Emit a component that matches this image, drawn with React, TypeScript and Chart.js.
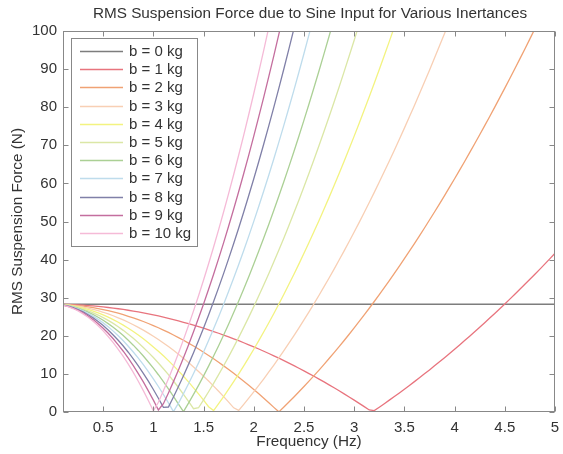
import React, { useEffect, useRef } from "react";
import { Chart, registerables } from "chart.js";

Chart.register(...registerables);

const TITLE = "RMS Suspension Force due to Sine Input for Various Inertances";
const X_LABEL = "Frequency (Hz)";
const Y_LABEL = "RMS Suspension Force (N)";

const frequency = [
  0.1, 0.15, 0.2, 0.25, 0.3, 0.35, 0.4, 0.45, 0.5, 0.55,
  0.6, 0.65, 0.7, 0.75, 0.8, 0.85, 0.9, 0.95, 1.0, 1.05,
  1.1, 1.15, 1.2, 1.25, 1.3, 1.35, 1.4, 1.45, 1.5, 1.55,
  1.6, 1.65, 1.7, 1.75, 1.8, 1.85, 1.9, 1.95, 2.0, 2.05,
  2.1, 2.15, 2.2, 2.25, 2.3, 2.35, 2.4, 2.45, 2.5, 2.55,
  2.6, 2.65, 2.7, 2.75, 2.8, 2.85, 2.9, 2.95, 3.0, 3.05,
  3.1, 3.15, 3.2, 3.25, 3.3, 3.35, 3.4, 3.45, 3.5, 3.55,
  3.6, 3.65, 3.7, 3.75, 3.8, 3.85, 3.9, 3.95, 4.0, 4.05,
  4.1, 4.15, 4.2, 4.25, 4.3, 4.35, 4.4, 4.45, 4.5, 4.55,
  4.6, 4.65, 4.7, 4.75, 4.8, 4.85, 4.9, 4.95, 5.0,
];

const xTicks = [0.5, 1, 1.5, 2, 2.5, 3, 3.5, 4, 4.5, 5];
const xTickLabels = ["0.5", "1", "1.5", "2", "2.5", "3", "3.5", "4", "4.5", "5"];
const yTicks = [0, 10, 20, 30, 40, 50, 60, 70, 80, 90, 100];

const seriesLabels = [
  "b = 0 kg", "b = 1 kg", "b = 2 kg", "b = 3 kg", "b = 4 kg", "b = 5 kg",
  "b = 6 kg", "b = 7 kg", "b = 8 kg", "b = 9 kg", "b = 10 kg",
];

const seriesColors = [
  "#7d7d7d", "#e8747e", "#f0a274", "#f8cfb4", "#f3f380", "#dbe7a6",
  "#abd095", "#bedcec", "#8080a8", "#c46e9e", "#f5bad7",
];

const force_b0_freq = [0.1, 5.0];
const force_b0 = [28.28, 28.28];

const force_b1 = [
  28.25, 28.22, 28.17, 28.11, 28.03, 27.94, 27.83, 27.71, 27.58, 27.43,
  27.27, 27.10, 26.91, 26.71, 26.49, 26.26, 26.01, 25.76, 25.48, 25.20,
  24.90, 24.58, 24.25, 23.91, 23.55, 23.18, 22.80, 22.40, 21.99, 21.56,
  21.12, 20.67, 20.20, 19.71, 19.22, 18.71, 18.18, 17.64, 17.09, 16.53,
  15.95, 15.35, 14.74, 14.12, 13.48, 12.83, 12.17, 11.49, 10.80, 10.09,
  9.37, 8.64, 7.89, 7.13, 6.35, 5.56, 4.76, 3.94, 3.11, 2.26,
  1.40, 0.53, 0.36, 1.26, 2.18, 3.11, 4.05, 5.01, 5.98, 6.97,
  7.97, 8.98, 10.01, 11.05, 12.11, 13.18, 14.26, 15.36, 16.47, 17.60,
  18.74, 19.89, 21.06, 22.24, 23.44, 24.65, 25.87, 27.11, 28.36, 29.63,
  30.91, 32.20, 33.51, 34.83, 36.16, 37.51, 38.88, 40.25, 41.65,
];

const force_b2 = [
  28.22, 28.15, 28.06, 27.93, 27.78, 27.59, 27.38, 27.15, 26.88, 26.59,
  26.27, 25.92, 25.54, 25.13, 24.70, 24.24, 23.75, 23.23, 22.69, 22.11,
  21.51, 20.88, 20.22, 19.54, 18.83, 18.09, 17.32, 16.52, 15.69, 14.84,
  13.96, 13.05, 12.11, 11.15, 10.16, 9.13, 8.09, 7.01, 5.90, 4.77,
  3.61, 2.42, 1.21, 0.04, 1.31, 2.61, 3.94, 5.30, 6.68, 8.10,
  9.54, 11.00, 12.50, 14.03, 15.58, 17.16, 18.77, 20.40, 22.07, 23.76,
  25.48, 27.23, 29.00, 30.81, 32.64, 34.50, 36.39, 38.30, 40.25, 42.22,
  44.22, 46.25, 48.30, 50.39, 52.50, 54.64, 56.81, 59.00, 61.22, 63.48,
  65.76, 68.06, 70.40, 72.76, 75.15, 77.57, 80.02, 82.50, 85.00, 87.53,
  90.09, 92.68, 95.29, 97.94, 100.61,
];

const force_b3 = [
  28.20, 28.09, 27.94, 27.76, 27.52, 27.25, 26.94, 26.58, 26.18, 25.74,
  25.26, 24.73, 24.17, 23.56, 22.91, 22.22, 21.48, 20.71, 19.89, 19.03,
  18.13, 17.18, 16.20, 15.17, 14.10, 12.99, 11.83, 10.64, 9.40, 8.12,
  6.80, 5.44, 4.03, 2.58, 1.09, 0.44, 2.01, 3.63, 5.28, 6.98,
  8.72, 10.51, 12.33, 14.20, 16.11, 18.06, 20.05, 22.09, 24.16, 26.28,
  28.44, 30.65, 32.89, 35.18, 37.51, 39.88, 42.29, 44.74, 47.24, 49.78,
  52.36, 54.98, 57.64, 60.35, 63.10, 65.89, 68.72, 71.59, 74.51, 77.47,
  80.47, 83.51, 86.59, 89.72, 92.89, 96.10, 99.35, 102.64,
];

const force_b4 = [
  28.17, 28.03, 27.83, 27.58, 27.27, 26.91, 26.49, 26.01, 25.48, 24.90,
  24.25, 23.55, 22.80, 21.99, 21.12, 20.20, 19.22, 18.18, 17.09, 15.95,
  14.74, 13.48, 12.17, 10.80, 9.37, 7.89, 6.35, 4.76, 3.11, 1.40,
  0.36, 2.18, 4.05, 5.98, 7.97, 10.01, 12.11, 14.26, 16.47, 18.74,
  21.06, 23.44, 25.87, 28.36, 30.91, 33.51, 36.16, 38.88, 41.65, 44.47,
  47.35, 50.29, 53.28, 56.33, 59.43, 62.60, 65.81, 69.08, 72.41, 75.80,
  79.24, 82.73, 86.29, 89.89, 93.56, 97.28, 101.05,
];

const force_b5 = [
  28.14, 27.97, 27.72, 27.41, 27.02, 26.57, 26.04, 25.45, 24.78, 24.05,
  23.25, 22.37, 21.43, 20.41, 19.33, 18.18, 16.95, 15.66, 14.30, 12.86,
  11.36, 9.79, 8.14, 6.43, 4.65, 2.79, 0.87, 1.12, 3.19, 5.32,
  7.52, 9.79, 12.14, 14.55, 17.03, 19.58, 22.21, 24.90, 27.66, 30.49,
  33.39, 36.37, 39.41, 42.52, 45.70, 48.95, 52.27, 55.67, 59.13, 62.66,
  66.26, 69.93, 73.67, 77.48, 81.36, 85.31, 89.33, 93.43, 97.59, 101.82,
];

const force_b6 = [
  28.11, 27.90, 27.61, 27.23, 26.77, 26.22, 25.59, 24.88, 24.08, 23.20,
  22.24, 21.19, 20.06, 18.84, 17.54, 16.16, 14.69, 13.13, 11.50, 9.78,
  7.97, 6.09, 4.11, 2.06, 0.08, 2.31, 4.61, 7.00, 9.48, 12.04,
  14.68, 17.41, 20.22, 23.11, 26.09, 29.16, 32.30, 35.53, 38.85, 42.25,
  45.73, 49.30, 52.94, 56.68, 60.50, 64.40, 68.38, 72.45, 76.61, 80.85,
  85.17, 89.57, 94.06, 98.63, 103.29,
];

const force_b7 = [
  28.08, 27.84, 27.50, 27.06, 26.52, 25.88, 25.15, 24.32, 23.39, 22.36,
  21.23, 20.01, 18.69, 17.27, 15.75, 14.13, 12.42, 10.61, 8.70, 6.69,
  4.59, 2.39, 0.09, 2.31, 4.81, 7.40, 10.10, 12.89, 15.77, 18.76,
  21.84, 25.02, 28.30, 31.68, 35.16, 38.73, 42.40, 46.17, 50.04, 54.00,
  58.06, 62.22, 66.48, 70.84, 75.29, 79.85, 84.50, 89.24, 94.09, 99.03,
  104.07,
];

const force_b8 = [
  28.06, 27.78, 27.38, 26.88, 26.27, 25.54, 24.70, 23.75, 22.69, 21.51,
  20.22, 18.83, 17.32, 15.69, 13.96, 12.11, 10.16, 8.09, 5.90, 3.61,
  1.21, 1.31, 3.94, 6.68, 9.54, 12.50, 15.58, 18.77, 22.07, 25.48,
  29.00, 32.64, 36.39, 40.25, 44.22, 48.30, 52.50, 56.81, 61.22, 65.76,
  70.40, 75.15, 80.02, 85.00, 90.09, 95.29, 100.61,
];

const force_b9 = [
  28.03, 27.71, 27.27, 26.71, 26.01, 25.20, 24.25, 23.18, 21.99, 20.67,
  19.22, 17.64, 15.95, 14.12, 12.17, 10.09, 7.89, 5.56, 3.11, 0.53,
  2.18, 5.01, 7.97, 11.05, 14.26, 17.60, 21.06, 24.65, 28.36, 32.20,
  36.16, 40.25, 44.47, 48.81, 53.28, 57.87, 62.60, 67.44, 72.41, 77.51,
  82.73, 88.08, 93.56, 99.16, 104.89,
];

const force_b10 = [
  28.00, 27.65, 27.16, 26.53, 25.76, 24.85, 23.81, 22.62, 21.29, 19.82,
  18.21, 16.46, 14.58, 12.55, 10.38, 8.07, 5.62, 3.04, 0.31, 2.56,
  5.56, 8.71, 12.00, 15.42, 18.99, 22.70, 26.54, 30.53, 34.65, 38.92,
  43.32, 47.87, 52.55, 57.38, 62.34, 67.45, 72.69, 78.08, 83.60, 89.26,
  95.07, 101.01,
];

const FONT = "'Liberation Sans', Arial, Helvetica, sans-serif";
const TEXT_COLOR = "#333333";
const FRAME_COLOR = "#888888";

const framePlugin = {
  id: "matlabFrame",
  afterDraw(chart: any) {
    const { ctx, chartArea } = chart;
    const { left, right, top, bottom } = chartArea;
    const xs = chart.scales.x;
    const ys = chart.scales.y;
    ctx.save();
    ctx.strokeStyle = FRAME_COLOR;
    ctx.lineWidth = 1;
    const L = Math.round(left) + 0.5;
    const R = Math.round(right) - 0.5;
    const T = Math.round(top) + 0.5;
    const B = Math.round(bottom) - 0.5;
    ctx.strokeRect(L, T, R - L, B - T);
    ctx.beginPath();
    for (const v of xTicks) {
      const p = Math.round(xs.getPixelForValue(v)) + 0.5;
      ctx.moveTo(p, B);
      ctx.lineTo(p, B - 5);
      ctx.moveTo(p, T);
      ctx.lineTo(p, T + 5);
    }
    for (const v of yTicks) {
      const p = Math.round(ys.getPixelForValue(v)) + 0.5;
      ctx.moveTo(L, p);
      ctx.lineTo(L + 5, p);
      ctx.moveTo(R, p);
      ctx.lineTo(R - 5, p);
    }
    ctx.stroke();

    // title
    ctx.fillStyle = TEXT_COLOR;
    ctx.font = `15.3px ${FONT}`;
    ctx.textAlign = "center";
    ctx.textBaseline = "middle";
    ctx.fillText(TITLE, (left + right) / 2 + 1, 14);

    // legend
    const bx = 71.5, by = 38.5, bw = 126, bh = 208;
    ctx.fillStyle = "#ffffff";
    ctx.fillRect(bx, by, bw, bh);
    ctx.strokeStyle = FRAME_COLOR;
    ctx.strokeRect(bx, by, bw, bh);
    ctx.font = `15px ${FONT}`;
    ctx.textAlign = "left";
    ctx.textBaseline = "middle";
    chart.data.datasets.forEach((ds: any, i: number) => {
      const yy = Math.round(51 + i * 18.2) + 0.5;
      ctx.strokeStyle = ds.borderColor;
      ctx.lineWidth = 1.3;
      ctx.beginPath();
      ctx.moveTo(80, yy);
      ctx.lineTo(123, yy);
      ctx.stroke();
      ctx.fillStyle = TEXT_COLOR;
      ctx.fillText(ds.label, 129, yy + 0.5);
    });
    ctx.restore();
  },
};

export default function App() {
  const ref = useRef<HTMLCanvasElement>(null);
  useEffect(() => {
    document.body.style.margin = "0";
    const canvas = ref.current;
    if (!canvas) return;
    const series = [
      force_b1, force_b2, force_b3, force_b4, force_b5,
      force_b6, force_b7, force_b8, force_b9, force_b10,
    ];
    const datasets: any[] = [
      {
        label: seriesLabels[0],
        data: force_b0_freq.map((x, i) => ({ x, y: force_b0[i] })),
        borderColor: seriesColors[0],
        borderWidth: 1.3,
        pointRadius: 0,
        order: 11,
      },
      ...series.map((arr, k) => ({
        label: seriesLabels[k + 1],
        data: arr.map((y, i) => ({ x: frequency[i], y })),
        borderColor: seriesColors[k + 1],
        borderWidth: 1.3,
        pointRadius: 0,
        order: 10 - k,
      })),
    ];
    const chart = new Chart(canvas, {
      type: "line",
      data: { datasets },
      options: {
        animation: false,
        responsive: false,
        devicePixelRatio: 1,
        layout: { padding: { top: 31, right: 8, left: 0, bottom: 0 } },
        plugins: {
          legend: { display: false },
          title: { display: false },
          tooltip: { enabled: false },
        },
        scales: {
          x: {
            type: "linear",
            min: 0.1,
            max: 5,
            grid: { display: false, drawTicks: false },
            border: { display: false },
            afterBuildTicks: (scale: any) => {
              scale.ticks = xTicks.map((v) => ({ value: v }));
            },
            afterFit: (scale: any) => {
              scale.height = 42;
              scale.paddingLeft = 0;
              scale.paddingRight = 0;
            },
            ticks: {
              padding: 7,
              color: TEXT_COLOR,
              font: { family: FONT, size: 15 },
              maxRotation: 0,
              autoSkip: false,
              callback: (value: any) => {
                const idx = xTicks.indexOf(Number(value));
                return idx >= 0 ? xTickLabels[idx] : "";
              },
            },
            title: {
              display: true,
              text: X_LABEL,
              color: TEXT_COLOR,
              font: { family: FONT, size: 15.3 },
              padding: { top: 0, bottom: 3 },
            },
          },
          y: {
            type: "linear",
            min: 0,
            max: 100,
            grid: { display: false, drawTicks: false },
            border: { display: false },
            afterBuildTicks: (scale: any) => {
              scale.ticks = yTicks.map((v) => ({ value: v }));
            },
            afterFit: (scale: any) => {
              scale.width = 63;
              scale.paddingTop = 0;
              scale.paddingBottom = 0;
            },
            ticks: {
              padding: 6,
              color: TEXT_COLOR,
              font: { family: FONT, size: 15 },
            },
            title: {
              display: true,
              text: Y_LABEL,
              color: TEXT_COLOR,
              font: { family: FONT, size: 15.3 },
              padding: { top: 9, bottom: 0 },
            },
          },
        },
      },
      plugins: [framePlugin],
    });
    return () => chart.destroy();
  }, []);
  return (
    <div style={{ width: 563, height: 454 }}>
      <canvas ref={ref} width={563} height={454} />
    </div>
  );
}
